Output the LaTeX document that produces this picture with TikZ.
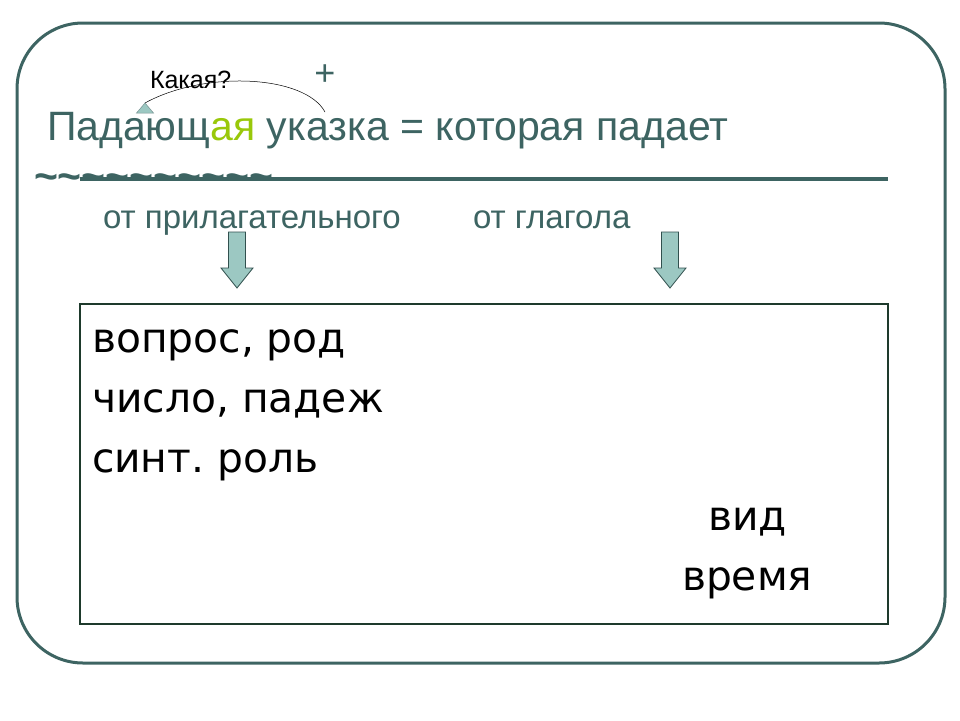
\documentclass[tikz,border=0pt]{standalone}
\usepackage{fontspec}
\setmainfont{Liberation Sans}
\newfontfamily\boxfont{DejaVu Sans}
\usepackage{tikz}
\usetikzlibrary{arrows.meta}
\usetikzlibrary{positioning}
\definecolor{SlideTeal}{HTML}{3D6462}
\definecolor{SlideGreen}{HTML}{99C80A}
\definecolor{ArrowFill}{HTML}{9CC8C2}
\definecolor{BoxLine}{HTML}{1E3A2C}
\frenchspacing

\begin{document}
\begin{tikzpicture}[x=1pt, y=-1pt, inner sep=0pt, outer sep=0pt,
		frame/.style={draw=SlideTeal, line width=3pt, rounded corners=66pt},
		blockarrow/.style={draw=SlideTeal!80!black, fill=ArrowFill, line width=0.8pt},
		asklink/.style={draw=black, line width=0.5pt},
		askhead/.style={draw=SlideTeal!70, fill=ArrowFill, line width=0.5pt},
		tealtext/.style={text=SlideTeal, anchor=base west}]
			\useasboundingbox (0,0) rectangle (960,720);
			\draw[frame] (17,23) rectangle (945,663);
			\node[tealtext, font=\fontsize{41}{46}\selectfont] (Title) at (47,140)
				{Падающ{\color{SlideGreen}ая} указка = которая падает};
			\node[anchor=base west, font=\fontsize{25}{28}\selectfont] (Ask) at (150,88) {Какая?};
			\node[text=SlideTeal, font=\fontsize{36}{40}\selectfont] (Plus) at (325,75) {+};
			\coordinate (AskFrom) at (325,112);
			\coordinate (AskTo) at (145,103);
			\draw[asklink] (AskFrom) .. controls (305,75) and (205,70) .. (AskTo);
			\draw[askhead] (AskTo) -- ++(-8.5,10) -- ++(17,0) -- cycle;
			\node[tealtext, font=\bfseries\fontsize{41}{44}\selectfont] (Tildes) at (34,190)
				{\foreach \i in {1,...,10}{\textasciitilde}};
			\coordinate (LineStart) at (80,179);
			\coordinate (LineEnd) at (888,179);
			\draw[SlideTeal, line width=4pt] (LineStart) -- (LineEnd);
			\node[tealtext, font=\fontsize{33}{36}\selectfont] (FromAdj) at (103,228) {от прилагательного};
			\node[tealtext, font=\fontsize{33}{36}\selectfont] (FromVerb) at (473,228) {от глагола};
			\foreach \cx in {237,670}
				\draw[blockarrow] (\cx-8.5,232) -- (\cx+8.5,232) -- (\cx+8.5,268) -- (\cx+16,268)
					-- (\cx,288) -- (\cx-16,268) -- (\cx-8.5,268) -- cycle;
			\draw[BoxLine, line width=1.5pt] (80,304) rectangle (888,624);
			\node[anchor=base west, font=\boxfont\fontsize{40.8}{44}\selectfont] (Question) at (92,352) {вопрос, род};
			\node[anchor=base west, font=\boxfont\fontsize{40.8}{44}\selectfont] (Number) at (92,412) {число, падеж};
			\node[anchor=base west, font=\boxfont\fontsize{40.8}{44}\selectfont] (Role) at (92,472) {синт. роль};
			\node[anchor=base west, font=\boxfont\fontsize{40.8}{44}\selectfont] (Aspect) at (708,530) {вид};
			\node[anchor=base west, font=\boxfont\fontsize{40.8}{44}\selectfont] (Tense) at (682,590) {время};
		\end{tikzpicture}
\end{document}
